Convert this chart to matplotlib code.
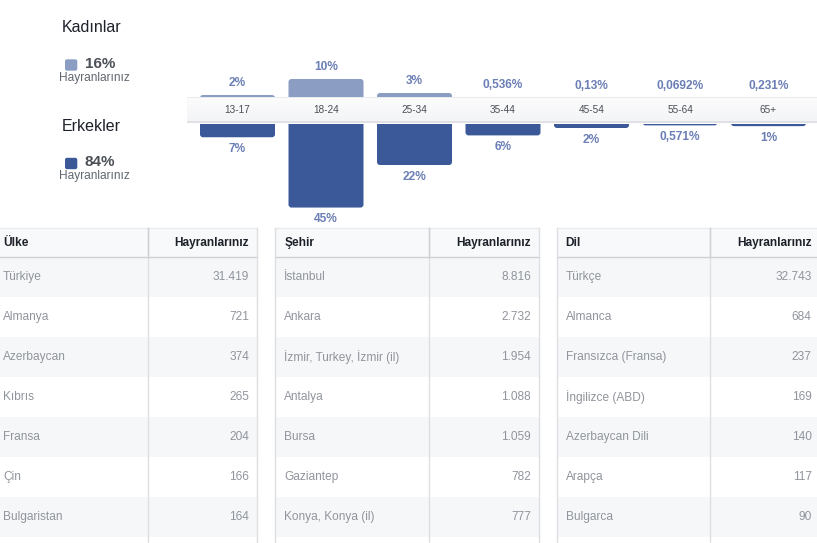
import matplotlib.pyplot as plt
import numpy as np
from matplotlib.patches import Rectangle, FancyBboxPatch

plt.rcParams['font.family'] = ['Liberation Sans', 'DejaVu Sans']

# --- veriler ---
age_groups = ['13-17', '18-24', '25-34', '35-44', '45-54', '55-64', '65+']
female_pct = [2, 10, 3, 0.536, 0.13, 0.0692, 0.231]
male_pct = [7, 45, 22, 6, 2, 0.571, 1]
gender_names = ['Kadınlar', 'Erkekler']
gender_share = [16, 84]

countries = ['Türkiye', 'Almanya', 'Azerbaycan', 'Kıbrıs', 'Fransa', 'Çin', 'Bulgaristan']
country_fans = ['31.419', '721', '374', '265', '204', '166', '164']
cities = ['İstanbul', 'Ankara', 'İzmir, Turkey, İzmir (il)', 'Antalya', 'Bursa', 'Gaziantep', 'Konya, Konya (il)']
city_fans = ['8.816', '2.732', '1.954', '1.088', '1.059', '782', '777']
languages = ['Türkçe', 'Almanca', 'Fransızca (Fransa)', 'İngilizce (ABD)', 'Azerbaycan Dili', 'Arapça', 'Bulgarca']
language_fans = ['32.743', '684', '237', '169', '140', '117', '90']

female_color = '#8b9dc3'
male_color = '#3b5998'
label_color = '#6b7fb6'

W, H = 817, 543
fig = plt.figure(figsize=(W / 100, H / 100), dpi=100)


def px_axes(x0, y0, x1, y1, z):
    a = fig.add_axes([x0 / W, 1 - y1 / H, (x1 - x0) / W, (y1 - y0) / H], zorder=z)
    a.patch.set_visible(False)
    a.axis('off')
    return a


bg = px_axes(0, 0, W, H, 0)
bg.set_xlim(0, W)
bg.set_ylim(H, 0)


def fmt(v):
    return ('%g' % v).replace('.', ',') + '%'


# --- sol taraf: cinsiyet ---
for k, (name, share, col) in enumerate(zip(gender_names, gender_share, [female_color, male_color])):
    dy = k * 98.5
    bg.text(62, 28 + dy, name, fontsize=11.5, color='#1d2129', va='center')
    bg.add_patch(FancyBboxPatch((65, 59.3 + dy), 12.3, 11.4, boxstyle='round,pad=0,rounding_size=2',
                                color=col, lw=0))
    bg.text(85, 64 + dy, '%d%%' % share, fontsize=11, fontweight='bold', color='#4b4f56', va='center')
    bg.text(58.7, 78 + dy, 'Hayranlarınız', fontsize=8.6, color='#606770', va='center')

# --- yas grafigi ---
x = np.arange(len(age_groups))
xl = ((186.7 - 237.5) / 88.5, (817 - 237.5) / 88.5)
bw = 75 / 88.5
rs = 3 / 88.5

axf = px_axes(186.7, 30, 817, 99, 1)
axf.set_xlim(*xl)
axf.set_ylim(0, (99 - 30) / 2.0)
axm = px_axes(186.7, 124.3, 817, 228, 1)
axm.set_xlim(*xl)
axm.set_ylim((228 - 124.3) / 1.85, 0)


def rounded(ax, bars, color, ma, ext):
    for r in bars:
        bx, by, w, h = r.get_x(), r.get_y(), r.get_width(), r.get_height()
        r.set_visible(False)
        ax.add_patch(FancyBboxPatch((bx, by - ext), w, h + ext,
                                    boxstyle='round,pad=0,rounding_size=%f' % rs,
                                    mutation_aspect=ma, color=color, lw=0))


fb = axf.bar(x, female_pct, bw, color=female_color)
rounded(axf, fb, female_color, 0.5 * 88.5, 4)
mb = axm.bar(x, male_pct, bw, color=male_color)
rounded(axm, mb, male_color, 88.5 / 1.85, 4)

for i in x:
    axf.annotate(fmt(female_pct[i]), (i, female_pct[i]), xytext=(0, 9), textcoords='offset points',
                 ha='center', va='center', fontsize=8.6, fontweight='bold', color=label_color,
                 annotation_clip=False)
    axm.annotate(fmt(male_pct[i]), (i, male_pct[i]), xytext=(0, -8.3), textcoords='offset points',
                 ha='center', va='center', fontsize=8.6, fontweight='bold', color=label_color,
                 annotation_clip=False)

# yas bandi
axb = px_axes(186.7, 96.7, 817, 122.7, 2)
axb.set_xlim(*xl)
axb.set_ylim(0, 1)
grad = np.linspace(0, 1, 50).reshape(-1, 1)
axb.imshow(grad, extent=(xl[0], xl[1], 0, 1), aspect='auto', origin='upper',
           cmap=plt.matplotlib.colors.LinearSegmentedColormap.from_list('b', ['#fcfcfd', '#f3f4f6']))
axb.axhline(0.985, color='#e6e8eb', lw=1.2)
axb.axhline(0.02, color='#dcdee2', lw=1.2)
for i, g in enumerate(age_groups):
    axb.text(i, 0.5, g, ha='center', va='center', fontsize=7.2, color='#4b4f56')

# --- tablolar ---
top, head_bot, row_h = 228.3, 257.3, 40
tables = [
    (-6, 147.7, 257.3, 'Ülke', countries, country_fans),
    (275.3, 429.3, 539.3, 'Şehir', cities, city_fans),
    (556.7, 710.3, 820, 'Dil', languages, language_fans),
]
for left, div, right, title, names, vals in tables:
    bg.add_patch(Rectangle((left, top), right - left, head_bot - top, color='#f8f9fa', lw=0))
    for r in range(len(names)):
        y0 = head_bot + r * row_h
        if r % 2 == 0:
            bg.add_patch(Rectangle((left, y0), right - left, row_h, color='#f6f7f9', lw=0))
        bg.text(left + 9, y0 + row_h / 2, names[r], fontsize=8.6, color='#90949c', va='center')
        bg.text(right - 8.3, y0 + row_h / 2, vals[r], fontsize=8.6, color='#90949c', va='center', ha='right')
    bg.text(left + 9, (top + head_bot) / 2, title, fontsize=8.6, fontweight='bold', color='#1d2129', va='center')
    bg.text(right - 8.3, (top + head_bot) / 2, 'Hayranlarınız', fontsize=8.6, fontweight='bold',
            color='#1d2129', va='center', ha='right')
    bg.plot([left, right], [top, top], color='#e9ebee', lw=1)
    bg.plot([left, right], [head_bot, head_bot], color='#cdd0d4', lw=1)
    for xv in (left, div, right):
        bg.plot([xv, xv], [top, H], color='#dddfe2', lw=1)
    bg.plot([div, div], [top, head_bot], color='#cdd0d4', lw=1)

plt.savefig('out.png', dpi=100)
